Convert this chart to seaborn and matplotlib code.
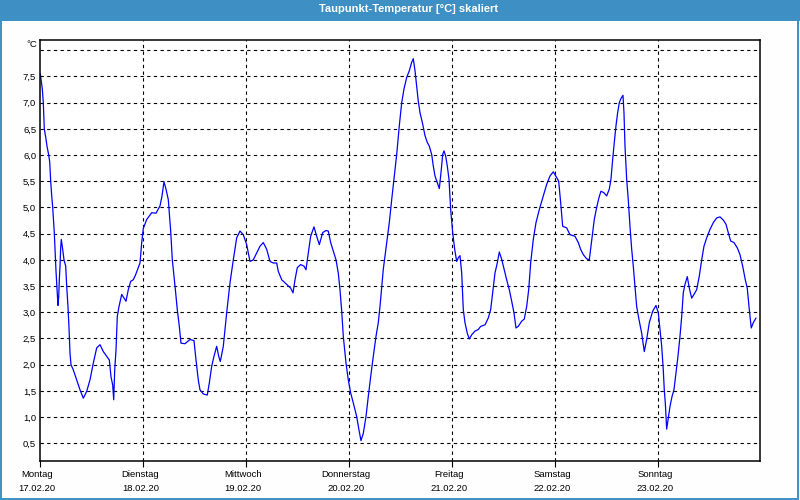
import matplotlib
matplotlib.use("Agg")
import matplotlib.pyplot as plt
import matplotlib.transforms as mtransforms
from matplotlib.patches import Rectangle
import seaborn as sns
import pandas as pd

# ---- data ----
hours = [0.0, 0.47, 0.70, 0.93, 1.26, 1.56, 1.96, 2.19, 2.42, 2.66, 2.89, 3.26, 3.43, 3.66, 3.82, 3.96,
         4.12, 4.29, 4.43, 4.59, 4.75, 4.89, 5.06, 5.22, 5.52, 5.92, 6.15, 6.45, 6.69, 6.92, 7.15, 7.69,
         8.48, 9.25, 10.02, 10.81, 11.58, 12.35, 13.14, 13.91, 14.68, 15.47, 16.08, 16.47, 16.87, 17.10,
         17.34, 17.64, 17.94, 18.34, 18.97, 19.50, 19.97, 20.50, 21.06, 21.67, 22.23, 22.83, 23.23, 23.63,
         24.0, 24.79, 25.96, 26.96, 27.89, 28.36, 28.82, 29.29, 29.82, 30.38, 30.76, 31.39, 31.92, 32.39,
         32.78, 33.72, 34.88, 35.81, 36.28, 36.81, 37.21, 37.98, 38.91, 39.38, 39.94, 40.47, 41.10, 41.57,
         41.94, 42.64, 43.43, 44.20, 44.97, 45.76, 46.53, 47.30, 48.09, 48.86, 49.63, 50.42, 51.19, 51.96,
         52.75, 53.52, 54.29, 55.08, 55.45, 56.25, 57.41, 58.34, 58.88, 59.35, 59.88, 60.67, 61.44, 61.91,
         62.44, 63.00, 63.77, 64.40, 65.01, 65.80, 66.57, 67.10, 67.66, 68.27, 68.90, 69.43, 69.83, 70.23,
         70.60, 71.23, 71.76, 72.32, 72.93, 73.72, 74.26, 74.72, 75.26, 75.89, 76.42, 76.98, 77.59, 78.22,
         78.75, 79.15, 79.92, 80.71, 81.32, 81.88, 82.41, 83.04, 83.65, 84.21, 84.74, 85.37, 85.98, 86.54,
         86.91, 87.31, 87.70, 88.07, 88.47, 89.10, 89.64, 90.17, 90.64, 91.20, 91.57, 91.97, 92.50, 92.97,
         93.36, 93.76, 94.06, 94.46, 94.83, 95.23, 95.62, 96.09, 96.56, 97.02, 97.39, 97.79, 98.19, 98.56,
         98.96, 99.49, 99.96, 100.52, 101.28, 102.05, 102.61, 103.62, 104.38, 104.94, 105.41, 105.95,
         106.48, 106.95, 107.51, 108.11, 108.67, 109.28, 109.84, 110.37, 110.84, 111.37, 112.17, 112.77,
         113.33, 113.80, 114.26, 114.87, 115.50, 116.27, 117.20, 117.99, 118.76, 119.53, 120.32, 120.79,
         121.25, 121.72, 122.65, 123.42, 124.59, 125.36, 125.91, 126.52, 127.31, 127.92, 128.31, 128.71,
         129.08, 129.64, 130.18, 130.64, 131.34, 131.97, 132.58, 132.97, 133.37, 133.74, 134.14, 134.53,
         134.91, 135.30, 135.77, 136.00, 136.24, 136.63, 137.00, 137.40, 137.80, 138.17, 138.57, 138.96,
         139.50, 140.13, 140.73, 141.29, 141.90, 142.69, 143.46, 144.0, 144.39, 144.79, 145.16, 145.39,
         145.63, 145.95, 146.32, 146.72, 147.19, 147.65, 148.12, 148.58, 149.05, 149.45, 149.82, 150.21,
         150.75, 151.22, 151.78, 152.31, 152.94, 153.55, 154.11, 154.64, 155.27, 156.04, 156.81, 157.60,
         158.37, 159.14, 159.77, 160.30, 160.86, 161.63, 162.40, 163.03, 163.66, 164.27, 164.73, 165.20,
         165.66, 166.13, 166.76]

dewpoint = [7.55, 7.26, 7.0, 6.5, 6.34, 6.17, 6.0, 5.87, 5.5, 5.22, 5.0, 4.52, 4.2, 3.78, 3.56, 3.34,
            3.13, 3.3, 3.62, 3.88, 4.23, 4.39, 4.29, 4.2, 4.0, 3.88, 3.5, 3.11, 2.7, 2.22, 2.0, 1.9,
            1.71, 1.52, 1.36, 1.49, 1.71, 2.03, 2.32, 2.38, 2.25, 2.16, 2.09, 1.77, 1.61, 1.33,
            1.9, 2.28, 2.92, 3.11, 3.34, 3.27, 3.21, 3.43, 3.59, 3.62, 3.72, 3.85, 3.94, 4.33,
            4.6, 4.77, 4.9, 4.89, 5.03, 5.22, 5.49, 5.35, 5.15, 4.55, 4.0, 3.5, 3.05, 2.73,
            2.41, 2.4, 2.48, 2.46, 2.09, 1.71, 1.52, 1.44, 1.42, 1.65, 1.97, 2.16, 2.35, 2.16,
            2.06, 2.35, 2.99, 3.56, 4.0, 4.42, 4.55, 4.48, 4.29, 3.97, 4.0, 4.13, 4.26, 4.33,
            4.2, 3.97, 3.94, 3.94, 3.78, 3.62, 3.53, 3.46, 3.37, 3.62, 3.85, 3.91, 3.88, 3.81,
            4.13, 4.45, 4.63, 4.45, 4.29, 4.52, 4.56, 4.55, 4.33, 4.17, 4.0, 3.75, 3.43, 3.02,
            2.54, 2.03, 1.71, 1.46, 1.27, 1.01, 0.75, 0.55, 0.69, 1.01, 1.39, 1.77, 2.16, 2.54,
            2.8, 3.11, 3.82, 4.33, 4.71, 5.15, 5.54, 6.01, 6.56, 7.0, 7.26, 7.48, 7.61, 7.77,
            7.84, 7.61, 7.32, 7.03, 6.81, 6.59, 6.37, 6.24, 6.17, 6.01, 5.79, 5.6, 5.47, 5.36,
            5.66, 6.01, 6.08, 5.98, 5.79, 5.54, 4.96, 4.52, 4.2, 3.97, 4.04, 4.08, 3.75, 3.05,
            2.8, 2.6, 2.49, 2.57, 2.64, 2.67, 2.73, 2.76, 2.89, 3.05, 3.37, 3.75,
            3.94, 4.15, 4.01, 3.81, 3.62, 3.43, 3.21, 2.99, 2.7, 2.73, 2.83, 2.87,
            3.11, 3.43, 3.94, 4.39, 4.71, 4.96, 5.22, 5.44, 5.6, 5.68, 5.57, 5.5,
            5.09, 4.64, 4.61, 4.48, 4.45, 4.33, 4.2, 4.1, 4.02, 4.0, 4.26, 4.52,
            4.77, 5.0, 5.19, 5.31, 5.28, 5.22, 5.35, 5.54, 5.92, 6.24, 6.56, 6.81,
            7.0, 7.08, 7.14, 6.81, 6.17, 5.54, 5.15, 4.64, 4.2, 3.88, 3.5, 3.11,
            2.86, 2.6, 2.25, 2.48, 2.8, 3.02, 3.13, 2.99, 2.67, 2.35, 1.9, 1.52,
            1.27, 0.77, 0.98, 1.2, 1.39, 1.52, 1.84, 2.16, 2.54, 2.92, 3.37, 3.53,
            3.68, 3.46, 3.27, 3.34, 3.43, 3.69, 4.0, 4.26, 4.42, 4.58, 4.71, 4.8,
            4.82, 4.76, 4.68, 4.52, 4.36, 4.33, 4.23, 4.1, 3.88, 3.62, 3.46, 3.05,
            2.7, 2.8, 2.89]

day_names = ["Montag", "Dienstag", "Mittwoch", "Donnerstag", "Freitag", "Samstag", "Sonntag"]
day_dates = ["17.02.20", "18.02.20", "19.02.20", "20.02.20", "21.02.20", "22.02.20", "23.02.20"]
y_ticks = [0.5, 1.0, 1.5, 2.0, 2.5, 3.0, 3.5, 4.0, 4.5, 5.0, 5.5, 6.0, 6.5, 7.0, 7.5]
title = "Taupunkt-Temperatur [°C] skaliert"

df = pd.DataFrame({"h": hours, "v": dewpoint})

# ---- style ----
sns.set_theme(style="white")
plt.rcParams["font.family"] = ["Liberation Sans", "DejaVu Sans"]

W, H = 800, 500
fig = plt.figure(figsize=(8, 5), dpi=100)
fig.patch.set_facecolor("#fdfefd")

# title bar and border
blue = "#3d8fc4"
fig.patches.append(Rectangle((0, 1 - 21 / H), 1, 21 / H, transform=fig.transFigure,
                             facecolor=blue, edgecolor="none", zorder=0))
fig.patches.append(Rectangle((0.6 / W, 1.5 / H), 1 - 2.2 / W, 1 - 3 / H, transform=fig.transFigure,
                             facecolor="none", edgecolor=blue, linewidth=1.4, zorder=1))
fig.text(409 / W, 1 - 9.5 / H, title, color="white", ha="center", va="center",
         fontsize=8, fontweight="bold")

ax = fig.add_axes([40.3 / W, 1 - 460.7 / H, (760 - 40.3) / W, (460.7 - 40.3) / H])
ax.set_facecolor("white")

sns.lineplot(data=df, x="h", y="v", ax=ax, color="#0000ff", linewidth=0.9, estimator=None, sort=False)

ax.set_xlim(0, (760 - 40.3) / 4.2917)
ax.set_ylim(0.167, 8.19)

# grid
for yv in y_ticks + [8.0]:
    ax.axhline(yv, color="black", linewidth=0.8, linestyle=(0, (3, 3)), zorder=0.5)
day_pos = [24 * i for i in range(len(day_names))]
for xv in day_pos[1:]:
    ax.axvline(xv, color="black", linewidth=0.8, linestyle=(0, (3, 3)), zorder=0.5)

ax.set_yticks(y_ticks)
ax.set_yticklabels([f"{v:.1f}".replace(".", ",") for v in y_ticks])
ax.set_xticks(day_pos)
ax.set_xticklabels([f"{n}\n{d}" for n, d in zip(day_names, day_dates)], linespacing=1.75)
ax.tick_params(axis="y", length=0, pad=3, labelsize=6.8, colors="black")
ax.tick_params(axis="x", length=4, width=0.8, direction="out", pad=2.4, labelsize=6.8, colors="black",
               bottom=True)
offset = mtransforms.ScaledTranslation(-3 / 100, 0, fig.dpi_scale_trans)
for lbl in ax.get_xticklabels():
    lbl.set_transform(lbl.get_transform() + offset)

for s in ax.spines.values():
    s.set_visible(True)
    s.set_color("black")
    s.set_linewidth(1.1)

ax.set_xlabel("")
ax.set_ylabel("")
fig.text(37 / W, 1 - 44.5 / H, "°C", ha="right", va="center", fontsize=6.8, color="black")

fig.savefig("out.png", dpi=100, facecolor=fig.get_facecolor())
